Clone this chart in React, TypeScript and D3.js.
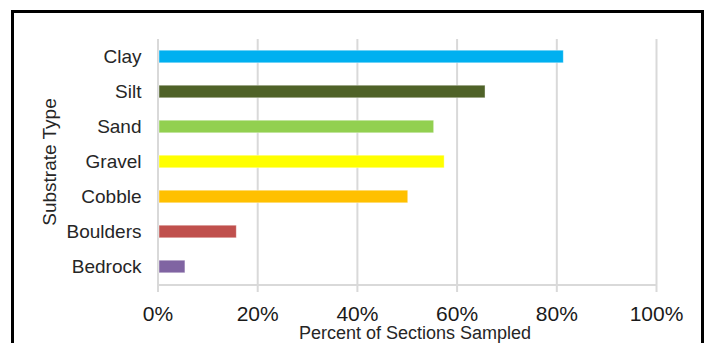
import React from "react";
import * as d3 from "d3";

const categories = ["Clay", "Silt", "Sand", "Gravel", "Cobble", "Boulders", "Bedrock"];
const percentSampled = [81.3, 65.6, 55.3, 57.4, 50.1, 15.7, 5.4];
const barColors = ["#00b0f0", "#4f6228", "#92d050", "#ffff00", "#ffc000", "#c0504d", "#8064a2"];
const xTicks = [0, 20, 40, 60, 80, 100];

const W = 705;
const H = 343;
const FONT = "'Liberation Sans', Arial, sans-serif";

export default function App() {
  const x = d3.scaleLinear().domain([0, 100]).range([158, 656.5]);
  const y = d3
    .scaleBand<string>()
    .domain(categories)
    .range([39, 284])
    .paddingInner(0.64)
    .paddingOuter(0.32);
  const axisY = 285;

  return (
    <svg
      width={W}
      height={H}
      style={{ position: "absolute", left: 0, top: 0, background: "#fff" }}
      fontFamily={FONT}
    >
      <rect x={0} y={0} width={W} height={H} fill="#fff" />
      {/* frame */}
      <rect x={12.5} y={11.5} width={690} height={400} fill="none" stroke="#000" strokeWidth={3} />

      {/* vertical gridlines with tick marks below the axis */}
      {xTicks.map((t) => (
        <line
          key={`g${t}`}
          x1={x(t)}
          x2={x(t)}
          y1={39}
          y2={292}
          stroke="#d9d9d9"
          strokeWidth={2}
        />
      ))}
      <line x1={x(0)} x2={x(100)} y1={axisY} y2={axisY} stroke="#d9d9d9" strokeWidth={2} />

      {/* bars */}
      {categories.map((c, i) => (
        <rect
          key={c}
          x={x(0) + 1}
          y={y(c)!}
          width={x(percentSampled[i]) - x(0) - 1}
          height={y.bandwidth()}
          fill={barColors[i]}
          stroke="#ffffff"
          strokeOpacity={0.5}
          strokeWidth={0.8}
        />
      ))}

      {/* category labels */}
      {categories.map((c) => (
        <text
          key={`l${c}`}
          x={141.5}
          y={y(c)! + y.bandwidth() / 2}
          dy="0.35em"
          textAnchor="end"
          fontSize={19}
          fill="#262626"
        >
          {c}
        </text>
      ))}

      {/* x tick labels */}
      {xTicks.map((t) => (
        <text
          key={`t${t}`}
          x={x(t)}
          y={321}
          textAnchor="middle"
          fontSize={21}
          fill="#1a1a1a"
        >
          {`${t}%`}
        </text>
      ))}

      {/* axis titles */}
      <text x={415} y={339} textAnchor="middle" fontSize={18} fill="#262626">
        Percent of Sections Sampled
      </text>
      <text
        transform="translate(56,162) rotate(-90)"
        textAnchor="middle"
        fontSize={19}
        fill="#262626"
      >
        Substrate Type
      </text>
    </svg>
  );
}
